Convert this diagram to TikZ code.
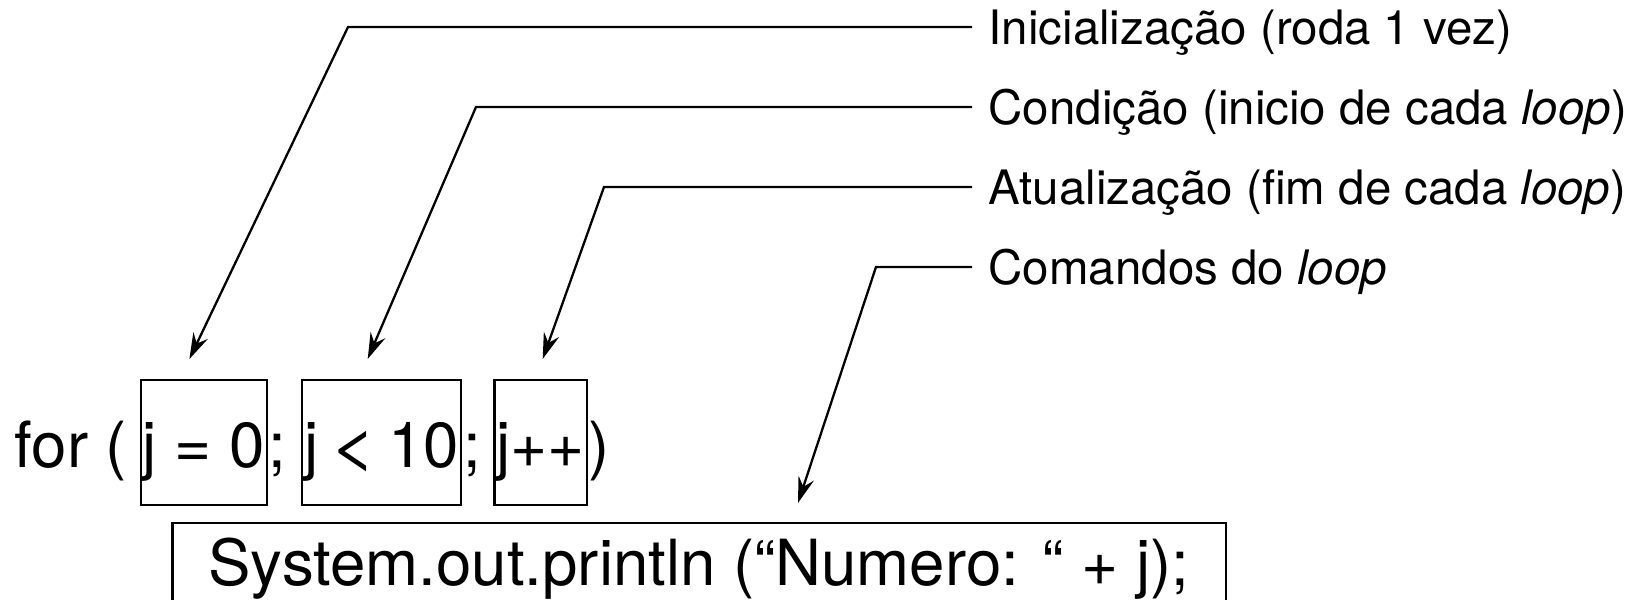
\documentclass[tikz,border=0pt]{standalone}
\usepackage{fontspec}
\setmainfont{TeX Gyre Heros}
\usetikzlibrary{positioning,arrows.meta}

\tikzset{
    codetext/.style={anchor=base west,inner sep=0pt,font=\fontsize{18.1}{22}\selectfont},
    codebox/.style={codetext,draw,line width=0.6pt,inner xsep=0.02cm,inner ysep=0pt,text height=0.87cm,text depth=0.38cm},
    bodybox/.style={draw,line width=0.6pt,anchor=base,inner xsep=0.36cm,inner ysep=0pt,text height=0.62cm,text depth=0.3cm,font=\fontsize{18.1}{22}\selectfont},
    partlabel/.style={anchor=west,inner xsep=0.16cm,inner ysep=0pt,text height=0.34cm,text depth=0pt,font=\fontsize{13.5}{16}\selectfont},
    pointer/.style={line width=0.65pt,-{Stealth[length=2.6mm,width=1.6mm,inset=0.9mm]}}
}

\begin{document}
\begin{tikzpicture}
    \useasboundingbox (0,0) rectangle (16.47,5.99);
    %For header
    \node[codetext] (forkw) at (0.14,1.32) {for (};
    \node[codebox] (init) at ([xshift=0.12cm]forkw.base east) {j = 0};
    \node[codetext] (semi1) at (init.base east) {;};
    \node[codebox] (cond) at ([xshift=0.14cm]semi1.base east) {j\hspace{0.11cm}\scalebox{1.3}[1]{<}\hspace{0.11cm}10};
    \node[codetext] (semi2) at (cond.base east) {;};
    \node[codebox] (upd) at ([xshift=0.12cm]semi2.base east) {j++};
    \node[codetext] (paren) at (upd.base east) {)};
    %Loop body
    \node[bodybox] (body) at (6.99,0.14) {System.out.println (“Numero: “ + j);};
    %Labels
    \node[partlabel] (lblInit) at (9.72,5.72) {Inicialização (roda 1 vez)};
    \node[partlabel] (lblCond) at (9.72,4.92) {Condição (inicio de cada \textit{loop})};
    \node[partlabel] (lblUpd) at (9.72,4.12) {Atualização (fim de cada \textit{loop})};
    \node[partlabel] (lblBody) at (9.72,3.32) {Comandos do \textit{loop}};
    %Bends
    \coordinate (bendInit) at (3.48,5.72);
    \coordinate (bendCond) at (4.76,4.92);
    \coordinate (bendUpd) at (6.04,4.12);
    \coordinate (bendBody) at (8.76,3.32);
    %Pointers
    \draw[pointer] (lblInit.west) -- (bendInit) -- ([xshift=-0.145cm,yshift=0.2cm]init.north);
    \draw[pointer] (lblCond.west) -- (bendCond) -- ([xshift=-0.14cm,yshift=0.2cm]cond.north);
    \draw[pointer] (lblUpd.west) -- (bendUpd) -- ([xshift=0.02cm,yshift=0.2cm]upd.north);
    \draw[pointer] (lblBody.west) -- (bendBody) -- ([xshift=0.99cm,yshift=0.19cm]body.north);
\end{tikzpicture}
\end{document}
